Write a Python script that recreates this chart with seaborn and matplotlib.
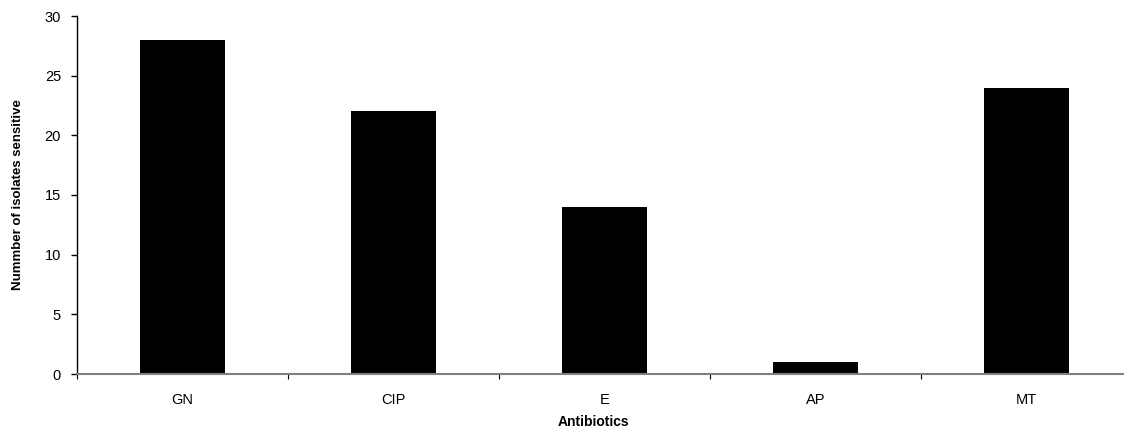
import matplotlib
matplotlib.use("Agg")
import matplotlib.pyplot as plt
import seaborn as sns
import pandas as pd
import numpy as np

categories = ["GN", "CIP", "E", "AP", "MT"]
values = [28, 22, 14, 1, 24]
yticks = [0, 5, 10, 15, 20, 25, 30]

sns.set_theme(style="white")
plt.rcParams['font.family'] = ['Liberation Sans', 'DejaVu Sans']
plt.rcParams['text.color'] = 'black'
plt.rcParams['axes.labelcolor'] = 'black'
plt.rcParams['xtick.color'] = 'black'
plt.rcParams['ytick.color'] = 'black'

df = pd.DataFrame({"Antibiotics": categories, "Sensitive": values})

fig = plt.figure(figsize=(11.24, 4.29), dpi=100)
ax = fig.add_axes([77/1124, 55/429, (1132-77)/1124, 358/429])
sns.barplot(data=df, x="Antibiotics", y="Sensitive", color="black",
            width=0.40, saturation=1, ax=ax, edgecolor="black", linewidth=0)

ax.set_xlim(-0.5, len(categories) - 0.5)
ax.set_ylim(0, 30)
ax.set_yticks(yticks)
ax.set_yticklabels([str(t) for t in yticks], fontsize=10.5)
ax.tick_params(axis="y", direction="out", length=4.5, width=1, color="black",
               left=True, pad=7, labelcolor="black")
ax.set_xticks(range(len(categories)))
ax.set_xticklabels(categories, fontsize=10.5)
ax.tick_params(axis="x", which="major", length=0, pad=14, labelcolor="black")
ax.set_xticks(np.arange(-0.5, len(categories) - 0.4, 1.0), minor=True)
ax.tick_params(axis="x", which="minor", direction="out", length=3.5, width=0.8,
               color="black", bottom=True)

for s in ["top", "right"]:
    ax.spines[s].set_visible(False)
ax.spines["left"].set_color("black")
ax.spines["left"].set_linewidth(1)
ax.spines["bottom"].set_color("#808080")
ax.spines["bottom"].set_linewidth(1.5)

ax.set_ylabel("Nummber of isolates sensitive", fontsize=9.5, fontweight="bold",
              labelpad=15, color="black")
ax.set_xlabel("Antibiotics", fontsize=10, fontweight="bold", color="black")
ax.xaxis.set_label_coords((593-77)/(1132-77), -0.115)

fig.savefig("out.png", dpi=100)
